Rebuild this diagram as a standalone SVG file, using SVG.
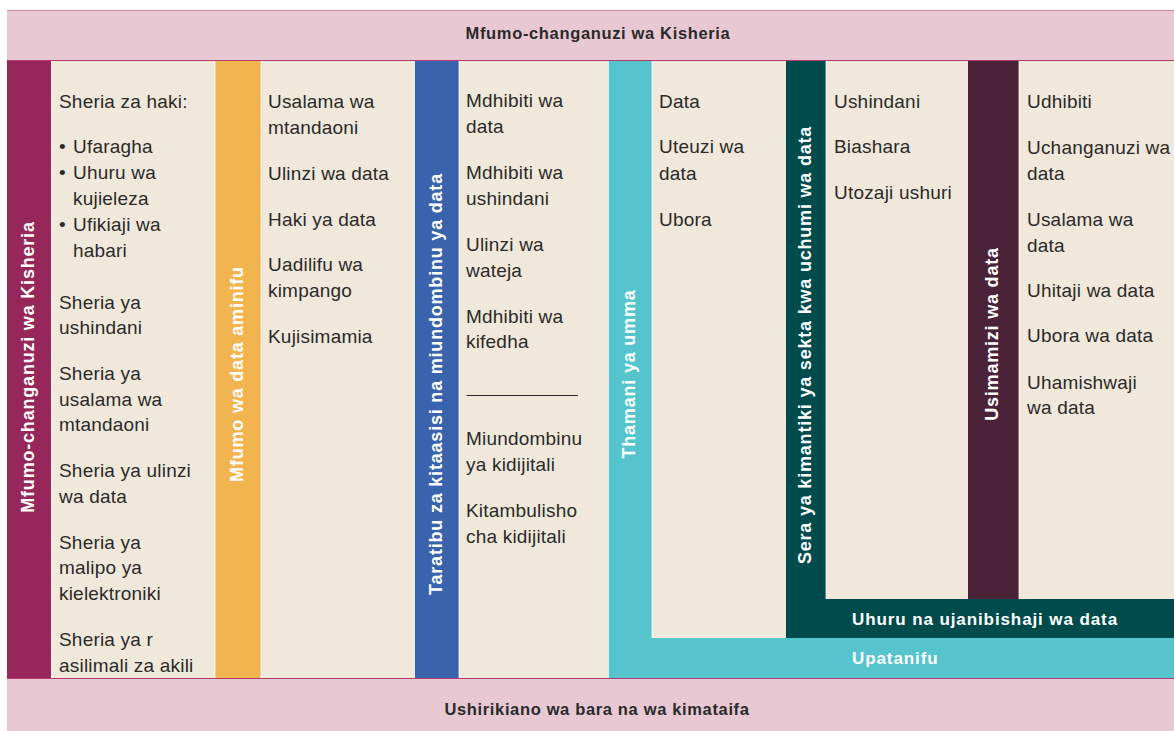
<svg xmlns="http://www.w3.org/2000/svg" width="1174" height="731" viewBox="0 0 1174 731">
<style>
.body{font-family:"Liberation Sans",Arial,sans-serif;font-size:19px;fill:#2A2A2A;letter-spacing:0.2px}
.hdr{font-family:"Liberation Sans",Arial,sans-serif;font-size:16.5px;font-weight:bold;fill:#2A2A2A;letter-spacing:0.65px;text-anchor:middle}
.vl{font-family:"Liberation Sans",Arial,sans-serif;font-size:18px;font-weight:bold;fill:#FFFFFF;letter-spacing:0.8px;text-anchor:middle}
.bl{font-family:"Liberation Sans",Arial,sans-serif;font-size:17px;font-weight:bold;fill:#FFFFFF;letter-spacing:0.9px}
.cream{fill:#F0E8DA}
.sep{stroke:#FFFFFF;stroke-width:1;stroke-opacity:0.75}
</style>
<rect x="0" y="0" width="1174" height="731" fill="#FFFFFF"/>

<g id="header">
<rect x="7" y="10" width="1167" height="51" fill="#E8C8D3"/>
<line x1="7" y1="10.5" x2="1174" y2="10.5" stroke="#C98AA6" stroke-width="1"/>
<line x1="7" y1="60.5" x2="1174" y2="60.5" stroke="#B23A6C" stroke-width="1.2"/>
<text class="hdr" x="598" y="39">Mfumo-changanuzi wa Kisheria</text>
</g>

<g id="footer">
<rect x="7" y="678" width="1167" height="53" fill="#E8C8D3"/>
<line x1="7" y1="678.5" x2="1174" y2="678.5" stroke="#B23A6C" stroke-width="1"/>
<text class="hdr" x="597" y="715">Ushirikiano wa bara na wa kimataifa</text>
</g>

<g id="legal">
<rect x="7" y="61" width="44" height="617" fill="#97265A"/>
<text class="vl" transform="translate(34,367) rotate(-90)">Mfumo-changanuzi wa Kisheria</text>
<rect class="cream" x="51" y="61" width="164" height="617"/>
<text class="body" x="59" y="108">Sheria za haki:</text>
<text class="body" x="59" y="153">•</text><text class="body" x="73" y="153">Ufaragha</text>
<text class="body" x="59" y="179">•</text><text class="body" x="73" y="179">Uhuru wa</text>
<text class="body" x="73" y="205">kujieleza</text>
<text class="body" x="59" y="231">•</text><text class="body" x="73" y="231">Ufikiaji wa</text>
<text class="body" x="73" y="257">habari</text>
<text class="body" x="59" y="309">Sheria ya</text>
<text class="body" x="59" y="334">ushindani</text>
<text class="body" x="59" y="380">Sheria ya</text>
<text class="body" x="59" y="406">usalama wa</text>
<text class="body" x="59" y="431">mtandaoni</text>
<text class="body" x="59" y="477">Sheria ya ulinzi</text>
<text class="body" x="59" y="503">wa data</text>
<text class="body" x="59" y="549">Sheria ya</text>
<text class="body" x="59" y="574">malipo ya</text>
<text class="body" x="59" y="600">kielektroniki</text>
<text class="body" x="59" y="646">Sheria ya r</text>
<text class="body" x="59" y="672">asilimali za akili</text>
</g>

<g id="trusted">
<rect x="215" y="61" width="46" height="617" fill="#F2B44E"/>
<text class="vl" transform="translate(242.5,374) rotate(-90)">Mfumo wa data aminifu</text>
<rect class="cream" x="261" y="61" width="154" height="617"/>
<text class="body" x="268" y="108">Usalama wa</text>
<text class="body" x="268" y="134">mtandaoni</text>
<text class="body" x="268" y="180">Ulinzi wa data</text>
<text class="body" x="268" y="226">Haki ya data</text>
<text class="body" x="268" y="271">Uadilifu wa</text>
<text class="body" x="268" y="297">kimpango</text>
<text class="body" x="268" y="343">Kujisimamia</text>
</g>

<g id="institutional">
<rect x="415" y="61" width="44" height="617" fill="#3A63AD"/>
<text class="vl" transform="translate(442,384) rotate(-90)">Taratibu za kitaasisi na miundombinu ya data</text>
<rect class="cream" x="459" y="61" width="149" height="617"/>
<text class="body" x="466" y="107">Mdhibiti wa</text>
<text class="body" x="466" y="133">data</text>
<text class="body" x="466" y="179">Mdhibiti wa</text>
<text class="body" x="466" y="205">ushindani</text>
<text class="body" x="466" y="251">Ulinzi wa</text>
<text class="body" x="466" y="277">wateja</text>
<text class="body" x="466" y="323">Mdhibiti wa</text>
<text class="body" x="466" y="348">kifedha</text>
<line x1="466.5" y1="395.5" x2="578" y2="395.5" stroke="#2A2A2A" stroke-width="1"/>
<text class="body" x="466" y="445">Miundombinu</text>
<text class="body" x="466" y="471">ya kidijitali</text>
<text class="body" x="466" y="517">Kitambulisho</text>
<text class="body" x="466" y="543">cha kidijitali</text>
</g>

<g id="public-value">
<rect x="608" y="61" width="44" height="617" fill="#55C4CC"/>
<rect x="608" y="638" width="566" height="40" fill="#55C4CC"/>
<text class="vl" transform="translate(634.5,374) rotate(-90)">Thamani ya umma</text>
<text class="bl" x="852" y="664">Upatanifu</text>
<rect class="cream" x="652" y="61" width="134" height="577"/>
<text class="body" x="659" y="108">Data</text>
<text class="body" x="659" y="153">Uteuzi wa</text>
<text class="body" x="659" y="180">data</text>
<text class="body" x="659" y="226">Ubora</text>
</g>

<g id="sector-policy">
<rect x="786" y="61" width="40" height="577" fill="#004B4C"/>
<rect x="786" y="599" width="388" height="39" fill="#004B4C"/>
<text class="vl" transform="translate(810.5,345) rotate(-90)">Sera ya kimantiki ya sekta kwa uchumi wa data</text>
<text class="bl" x="852" y="625">Uhuru na ujanibishaji wa data</text>
<rect class="cream" x="826" y="61" width="142" height="538"/>
<text class="body" x="834" y="108">Ushindani</text>
<text class="body" x="834" y="153">Biashara</text>
<text class="body" x="834" y="199">Utozaji ushuri</text>
</g>

<g id="data-governance">
<rect x="968" y="61" width="51" height="538" fill="#4B2339"/>
<text class="vl" transform="translate(998,334) rotate(-90)">Usimamizi wa data</text>
<rect class="cream" x="1019" y="61" width="155" height="538"/>
<text class="body" x="1027" y="108">Udhibiti</text>
<text class="body" x="1027" y="154">Uchanganuzi wa</text>
<text class="body" x="1027" y="180">data</text>
<text class="body" x="1027" y="226">Usalama wa</text>
<text class="body" x="1027" y="252">data</text>
<text class="body" x="1027" y="297">Uhitaji wa data</text>
<text class="body" x="1027" y="342">Ubora wa data</text>
<text class="body" x="1027" y="389">Uhamishwaji</text>
<text class="body" x="1027" y="414">wa data</text>
</g>

<g id="separators">
<line class="sep" x1="51.5" y1="61" x2="51.5" y2="678"/>
<line class="sep" x1="215" y1="61" x2="215" y2="678"/>
<line class="sep" x1="261" y1="61" x2="261" y2="678"/>
<line class="sep" x1="459" y1="61" x2="459" y2="678"/>
<line class="sep" x1="608.5" y1="61" x2="608.5" y2="678"/>
<line class="sep" x1="652" y1="61" x2="652" y2="638"/>
<line class="sep" x1="826" y1="61" x2="826" y2="599"/>
<line class="sep" x1="1019" y1="61" x2="1019" y2="599"/>
</g>
</svg>
